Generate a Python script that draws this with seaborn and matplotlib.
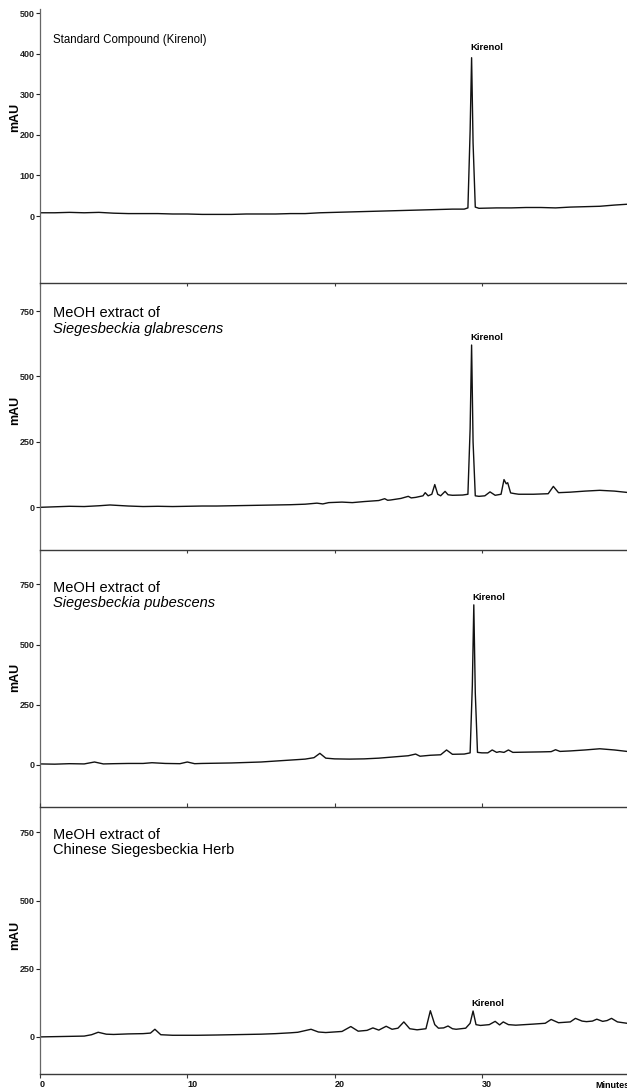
import numpy as np
import pandas as pd
import matplotlib
matplotlib.use("Agg")
import matplotlib.pyplot as plt
import seaborn as sns

# ---- data (time in min, signal in mAU) ----
std_time = [0, 1, 2, 3, 4, 5, 6, 7, 8, 9, 10, 11, 12, 13, 14, 15, 16, 17, 18, 19,
            20, 21, 22, 23, 24, 25, 26, 27, 28, 28.8, 29.05, 29.2, 29.3, 29.4, 29.55,
            29.8, 31, 32, 33, 34, 35, 36, 37, 38, 39, 39.85]
std_mau = [8, 8, 9, 8, 9, 7, 6, 6, 6, 5, 5, 4, 4, 4, 5, 5, 5, 6, 6, 8,
           9, 10, 11, 12, 13, 14, 15, 16, 17, 17, 20, 210, 390, 180, 22,
           19, 20, 20, 21, 21, 20, 22, 23, 24, 27, 29]

glab_time = [0, 1, 2, 3, 4, 4.75, 6, 7, 8, 9, 10, 11, 12, 13, 14, 15, 16, 17, 18,
             18.8, 19.2, 19.6, 20.5, 21.2, 22, 23, 23.4, 23.6, 23.8, 24.5, 25.0,
             25.2, 25.5, 26.0, 26.15, 26.35, 26.6, 26.8, 27.0, 27.2, 27.5, 27.7,
             28, 28.7, 29.05, 29.2, 29.3, 29.4, 29.55, 29.8, 30.2, 30.55, 30.9,
             31.3, 31.5, 31.65, 31.75, 31.95, 32.25, 32.5, 33.5, 34.5, 34.85,
             35.2, 36, 37, 38, 39, 39.85]
glab_mau = [0, 2, 4, 3, 6, 9, 5, 3, 4, 3, 4, 5, 5, 6, 7, 8, 9, 10, 12,
            16, 13, 18, 20, 18, 22, 26, 33, 27, 28, 34, 42,
            36, 38, 44, 56, 44, 50, 87, 50, 44, 61, 48,
            46, 47, 50, 300, 620, 250, 44, 42, 44, 59, 46,
            50, 106, 90, 94, 55, 52, 50, 50, 52, 80,
            56, 58, 62, 65, 62, 57]

pub_time = [0, 1, 2, 3, 3.7, 4.3, 5, 6, 7, 7.6, 8.5, 9.5, 10, 10.5, 11, 12, 13,
            14, 15, 16, 17, 18, 18.6, 19, 19.4, 20, 21, 22, 23, 24, 25, 25.5,
            25.8, 26.5, 27.2, 27.6, 28, 28.8, 29.2, 29.35, 29.45, 29.55, 29.7,
            30, 30.4, 30.7, 31.0, 31.2, 31.5, 31.8, 32.1, 33, 34, 34.7, 35,
            35.3, 36, 37, 38, 39, 39.85]
pub_mau = [4, 3, 5, 4, 12, 4, 5, 6, 6, 9, 6, 5, 12, 5, 6, 7, 8,
           10, 12, 16, 20, 24, 30, 48, 28, 25, 24, 25, 28, 33, 38, 45,
           36, 40, 42, 62, 44, 45, 50, 330, 665, 300, 52,
           50, 50, 62, 52, 55, 52, 62, 52, 53, 54, 55, 63,
           56, 58, 62, 67, 62, 56]

herb_time = [0, 1, 2, 3, 3.5, 3.95, 4.5, 5, 6, 7, 7.5, 7.8, 8.2, 9, 10, 10.7, 12,
             13, 14, 15, 16, 17, 17.5, 18.4, 18.9, 19.4, 20.5, 21.1, 21.6, 22.2,
             22.6, 23.0, 23.5, 23.9, 24.3, 24.7, 25.1, 25.6, 26.2, 26.5, 26.8,
             27.05, 27.4, 27.7, 28.0, 28.25, 28.9, 29.2, 29.4, 29.6, 29.9, 30.5,
             30.9, 31.2, 31.45, 31.8, 32.3, 33.5, 34.3, 34.7, 35.2, 36.0, 36.35,
             36.8, 37.1, 37.5, 37.8, 38.2, 38.5, 38.8, 39.2, 39.85]
herb_mau = [0, 1, 2, 3, 8, 17, 10, 9, 11, 12, 14, 28, 8, 6, 6, 6, 7,
            8, 9, 10, 12, 15, 17, 28, 18, 16, 20, 38, 21, 24,
            33, 25, 39, 28, 32, 55, 30, 26, 30, 96, 45,
            32, 33, 40, 30, 28, 32, 50, 95, 45, 42, 45,
            57, 44, 55, 45, 43, 47, 50, 64, 52, 55, 68,
            58, 56, 58, 65, 57, 60, 68, 55, 50]

panel_titles = [
    ["Standard Compound (Kirenol)"],
    ["MeOH extract of", "Siegesbeckia glabrescens"],
    ["MeOH extract of", "Siegesbeckia pubescens"],
    ["MeOH extract of", "Chinese Siegesbeckia Herb"],
]
kirenol_rt = [29.3, 29.3, 29.45, 29.4]
kirenol_apex = [390, 620, 665, 95]
y_ticks_std = [0, 100, 200, 300, 400, 500]
y_ticks_ext = [0, 250, 500, 750]
x_ticks = [0, 10, 20, 30]

traces = [
    pd.DataFrame({"time": std_time, "mAU": std_mau}),
    pd.DataFrame({"time": glab_time, "mAU": glab_mau}),
    pd.DataFrame({"time": pub_time, "mAU": pub_mau}),
    pd.DataFrame({"time": herb_time, "mAU": herb_mau}),
]

sns.set_style("ticks")
plt.rcParams["font.family"] = ["Liberation Sans", "DejaVu Sans"]
plt.rcParams["text.color"] = "black"

W, H = 627, 1090
fig = plt.figure(figsize=(W / 100, H / 100), dpi=100)

# panel extents in pixels: (top, bottom)
extents = [(9, 283), (283, 550), (550, 807), (807, 1074)]
ylims = [(-165, 510), (-163, 857), (-175, 893), (-136, 843)]
label_y = [0.606, 0.524, 0.506, 0.52]
title_y = [[0.887], [0.888, 0.828], [0.852, 0.794], [0.895, 0.839]]
left_px = 40
spine_col = "#3a3a3a"

for i, df in enumerate(traces):
    top, bot = extents[i]
    ax = fig.add_axes([left_px / W, (H - bot) / H, (W - left_px) / W, (bot - top) / H])
    sns.lineplot(data=df, x="time", y="mAU", ax=ax, color="#111111", lw=1.0,
                 estimator=None, sort=False)
    ax.set_xlim(0, 39.85)
    ax.set_ylim(*ylims[i])
    ax.set_yticks(y_ticks_std if i == 0 else y_ticks_ext)
    ax.set_xlabel("")
    ax.set_ylabel("")
    ax.text(-0.043, label_y[i], "mAU", transform=ax.transAxes, rotation=90,
            ha="center", va="center", fontsize=9, fontweight="bold")

    ax.spines["right"].set_visible(False)
    ax.spines["left"].set_color("#666666")
    ax.spines["left"].set_linewidth(0.9)
    ax.spines["top"].set_visible(i > 0)
    ax.spines["top"].set_color(spine_col)
    ax.spines["top"].set_linewidth(1.0)
    last = i == len(traces) - 1
    ax.spines["bottom"].set_visible(last)
    ax.spines["bottom"].set_color(spine_col)
    ax.spines["bottom"].set_linewidth(1.0)

    ax.set_xticks(x_ticks)
    ax.tick_params(axis="y", direction="out", length=3, width=0.8, pad=1,
                   labelsize=6.5, colors="#222222")
    for lab in ax.get_yticklabels():
        lab.set_fontweight("bold")
    ax.tick_params(axis="x", top=(i > 0), bottom=last, labelbottom=last,
                   direction="in", length=2.5, width=0.8, color=spine_col)
    if last:
        ax.tick_params(axis="x", which="major", bottom=True, direction="out",
                       length=3, pad=1, labelsize=6.5, labelcolor="#111111")
        for lab in ax.get_xticklabels():
            lab.set_fontweight("bold")
            lab.set_horizontalalignment("left")

    # sample titles
    lines = panel_titles[i]
    if i == 0:
        ax.text(0.022, title_y[i][0], lines[0], transform=ax.transAxes,
                ha="left", va="center", fontsize=8.3)
    else:
        ax.text(0.022, title_y[i][0], lines[0], transform=ax.transAxes,
                ha="left", va="center", fontsize=10.5)
        ax.text(0.022, title_y[i][1], lines[1], transform=ax.transAxes,
                ha="left", va="center", fontsize=10.5,
                style="italic" if i < 3 else "normal")

    # Kirenol peak label
    ax.annotate("Kirenol", xy=(kirenol_rt[i], kirenol_apex[i]),
                xytext=(-1.2, 7 if i == 0 else 5.5),
                textcoords="offset points", ha="left", va="center",
                fontsize=6.8, fontweight="bold")

fig.text(612 / W, 1 - 1085 / H, "Minutes", ha="center", va="center",
         fontsize=6.5, fontweight="bold")

fig.savefig("out.png", dpi=100, facecolor="white")
